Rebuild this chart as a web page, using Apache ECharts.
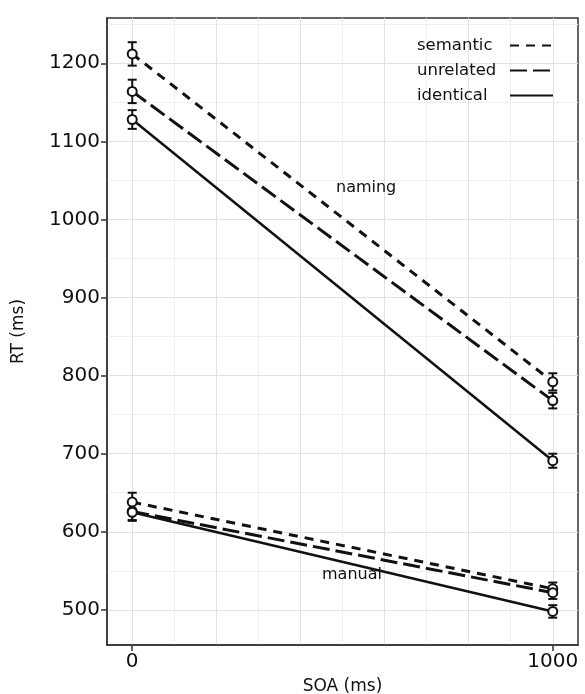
<!DOCTYPE html>
<html>
<head>
<meta charset="utf-8">
<script src="https://cdn.jsdelivr.net/npm/echarts@6/dist/echarts.min.js"></script>
<style>
  html, body { margin: 0; padding: 0; background: #fff; }
  #chart { width: 585px; height: 694px; }
</style>
</head>
<body>
<div id="chart"></div>
<script>
// SOA conditions (ms)
const soa = [0, 1000]

// mean RT (ms) per condition
const namingSemantic = [1212, 792]
const namingUnrelated = [1164, 768]
const namingIdentical = [1128, 691]
const manualSemantic = [638, 527]
const manualUnrelated = [626, 522]
const manualIdentical = [625, 498]

// error bar half-widths
const namingSemanticErr = [15, 11]
const namingUnrelatedErr = [15, 10]
const namingIdenticalErr = [12, 9]
const manualSemanticErr = [12, 8]
const manualUnrelatedErr = [11, 8]
const manualIdenticalErr = [11, 8]

// ticks and grid lines
const xTicks = [0, 1000]
const yTicks = [500, 600, 700, 800, 900, 1000, 1100, 1200]
const xGridMajor = [0, 200, 400, 600, 800, 1000]
const xGridMinor = [100, 300, 500, 700, 900]
const yGridMajor = [500, 600, 700, 800, 900, 1000, 1100, 1200]
const yGridMinor = [550, 650, 750, 850, 950, 1050, 1150, 1250]

const FONT = 'DejaVu Sans'

const styles = {
  semantic: { type: [9, 7], width: 3 },
  unrelated: { type: [17, 6], width: 3 },
  identical: { type: 'solid', width: 2.5 }
}

function lineSeries (name, values) {
  return {
    name: name,
    type: 'line',
    data: soa.map((x, i) => [x, values[i]]),
    symbol: 'emptyCircle',
    symbolSize: 9,
    showSymbol: true,
    z: 3,
    itemStyle: { color: '#111', borderColor: '#111', borderWidth: 2 },
    lineStyle: { color: '#111', width: styles[name].width, type: styles[name].type },
    emphasis: { disabled: true }
  }
}

// error bars drawn through the axes' own coordinate system
const errData = []
;[
  [namingSemantic, namingSemanticErr],
  [namingUnrelated, namingUnrelatedErr],
  [namingIdentical, namingIdenticalErr],
  [manualSemantic, manualSemanticErr],
  [manualUnrelated, manualUnrelatedErr],
  [manualIdentical, manualIdenticalErr]
].forEach(pair => {
  soa.forEach((x, i) => {
    errData.push([x, pair[0][i] - pair[1][i], pair[0][i] + pair[1][i]])
  })
})

function renderErr (params, api) {
  const lo = api.coord([api.value(0), api.value(1)])
  const hi = api.coord([api.value(0), api.value(2)])
  const cap = 4.5
  const st = { stroke: '#111', lineWidth: 2 }
  return {
    type: 'group',
    children: [
      { type: 'line', shape: { x1: lo[0], y1: lo[1], x2: hi[0], y2: hi[1] }, style: st },
      { type: 'line', shape: { x1: lo[0] - cap, y1: lo[1], x2: lo[0] + cap, y2: lo[1] }, style: st },
      { type: 'line', shape: { x1: hi[0] - cap, y1: hi[1], x2: hi[0] + cap, y2: hi[1] }, style: st }
    ]
  }
}

const gridLine = (key, v, color) => ({ [key]: v, lineStyle: { color: color, width: 1, type: 'solid' } })

const option = {
  animation: false,
  textStyle: { fontFamily: FONT },
  grid: {
    left: 107, right: 7, top: 18, bottom: 49,
    outerBoundsMode: 'none',
    containLabel: false,
    show: true, borderColor: '#333', borderWidth: 1.5, backgroundColor: '#fff'
  },
  legend: {
    data: ['semantic', 'unrelated', 'identical'],
    orient: 'vertical',
    align: 'right',
    right: 26,
    top: 32,
    itemWidth: 43,
    itemHeight: 14,
    itemGap: 8,
    z: 10,
    selectedMode: false,
    itemStyle: { opacity: 0 },
    formatter: name => '{a|' + name + '}',
    textStyle: {
      fontFamily: FONT,
      fontSize: 16.5,
      color: '#111',
      rich: { a: { width: 88, align: 'left', fontFamily: FONT, fontSize: 16.5, color: '#111' } }
    }
  },
  xAxis: {
    type: 'value',
    min: -60,
    max: 1060,
    name: 'SOA (ms)',
    nameLocation: 'middle',
    nameGap: 33,
    nameTextStyle: { fontFamily: FONT, fontSize: 17, color: '#111' },
    axisLine: { show: true, onZero: false, lineStyle: { color: '#333', width: 1.5 } },
    axisTick: { show: true, customValues: xTicks, length: 6, lineStyle: { color: '#333', width: 1.5 } },
    axisLabel: { customValues: xTicks, formatter: v => String(v), fontFamily: FONT, fontSize: 20, color: '#111', margin: 7 },
    splitLine: { show: false }
  },
  yAxis: {
    type: 'value',
    min: 455,
    max: 1258,
    name: 'RT (ms)',
    nameLocation: 'middle',
    nameGap: 80,
    nameRotate: 90,
    nameTextStyle: { fontFamily: FONT, fontSize: 17, color: '#111' },
    axisLine: { show: true, onZero: false, lineStyle: { color: '#333', width: 1.5 } },
    axisTick: { show: true, customValues: yTicks, length: 6, lineStyle: { color: '#333', width: 1.5 } },
    axisLabel: { customValues: yTicks, formatter: v => String(v), fontFamily: FONT, fontSize: 20, color: '#111', margin: 7 },
    splitLine: { show: false }
  },
  graphic: [
    { type: 'text', left: 336, top: 180, z: 10, style: { text: 'naming', font: '16px "DejaVu Sans"', fill: '#111' } },
    { type: 'text', left: 322, top: 567, z: 10, style: { text: 'manual', font: '16px "DejaVu Sans"', fill: '#111' } }
  ],
  series: [
    {
      name: 'grid',
      type: 'line',
      data: [],
      z: 0,
      silent: true,
      markLine: {
        silent: true,
        z: 0,
        symbol: 'none',
        label: { show: false },
        animation: false,
        data: [
          ...xGridMinor.map(v => gridLine('xAxis', v, '#efefef')),
          ...yGridMinor.map(v => gridLine('yAxis', v, '#efefef')),
          ...xGridMajor.map(v => gridLine('xAxis', v, '#e2e2e2')),
          ...yGridMajor.map(v => gridLine('yAxis', v, '#e2e2e2'))
        ]
      }
    },
    lineSeries('semantic', namingSemantic),
    lineSeries('unrelated', namingUnrelated),
    lineSeries('identical', namingIdentical),
    lineSeries('semantic', manualSemantic),
    lineSeries('unrelated', manualUnrelated),
    lineSeries('identical', manualIdentical),
    {
      name: 'err',
      type: 'custom',
      data: errData,
      z: 2,
      silent: true,
      renderItem: renderErr
    }
  ]
}

const chart = echarts.init(document.getElementById('chart'))
chart.setOption(option)
</script>
</body>
</html>
